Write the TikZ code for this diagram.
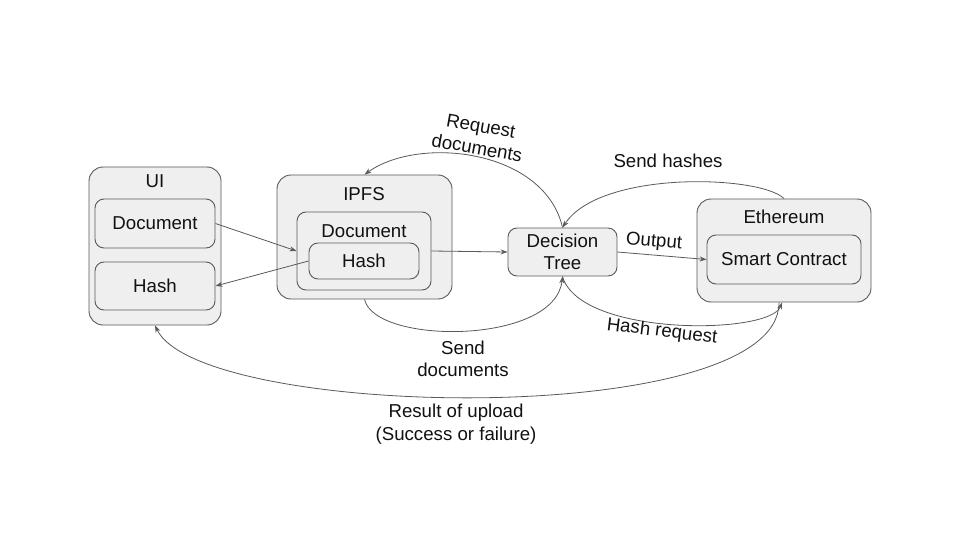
\documentclass[tikz,border=0pt]{standalone}
\usepackage{fontspec}
\setmainfont{Liberation Sans}
\usetikzlibrary{arrows.meta}
\definecolor{boxfill}{HTML}{EFEFEF}
\definecolor{edgecol}{HTML}{595959}
\definecolor{txt}{HTML}{111111}
\begin{document}
\begin{tikzpicture}[x=1pt,y=-1pt,
  box/.style={draw=edgecol, fill=boxfill, line width=0.9pt, rounded corners=14pt, inner sep=0pt},
  ibox/.style={draw=edgecol, fill=boxfill, line width=0.9pt, rounded corners=9pt, inner sep=0pt, align=center, text=txt, font=\fontsize{18.67}{22.5}\selectfont},
  lbl/.style={font=\fontsize{18.67}{22.5}\selectfont, align=center, inner sep=0pt, text=txt},
  arr/.style={draw=edgecol, line width=0.8pt, -{Stealth[length=7pt,width=5pt]}}
]
\useasboundingbox (0,0) rectangle (960,540);

% outer containers
\node[box, minimum width=132pt, minimum height=158pt] (ui) at (155,246) {};
\node[box, minimum width=175pt, minimum height=124pt] (ipfs) at (364.5,237) {};
\node[box, minimum width=174pt, minimum height=103pt] (eth) at (784,250.5) {};

\node[lbl] (uit) at (155,181) {UI};
\node[lbl] (ipfst) at (364,194) {IPFS};
\node[lbl] (etht) at (784,217) {Ethereum};

% inner boxes
\node[ibox, minimum width=120pt, minimum height=49pt] (uidoc) at (155,223.5) {Document};
\node[ibox, minimum width=120pt, minimum height=48pt] (uihash) at (155,286) {Hash};
\node[ibox, minimum width=134pt, minimum height=78pt] (ipfsdoc) at (364,251) {};
\node[lbl] (ipfsdoct) at (364,231) {Document};
\node[ibox, minimum width=110pt, minimum height=36pt] (ipfshash) at (364,261) {Hash};
\node[ibox, minimum width=109pt, minimum height=48pt] (dt) at (562.5,252) {Decision\\Tree};
\node[ibox, minimum width=154pt, minimum height=49pt] (sc) at (784,259.5) {Smart Contract};

% straight connectors
\draw[arr] (uidoc.east) -- (ipfsdoc.west);
\draw[arr] (ipfshash.west) -- (uihash.east);
\draw[arr] (ipfsdoc.east) -- (dt.west);
\draw[arr] (dt.east) -- (sc.west);

% curved connectors
\draw[arr] (dt.north) .. controls (545,150) and (420,135) .. (ipfs.north);
\draw[arr] (eth.north) .. controls (760,175) and (600,170) .. (dt.north);
\draw[arr] (ipfs.south) .. controls (375,345) and (555,345) .. (dt.south);
\draw[arr] (dt.south) .. controls (580,337) and (770,335) .. ([xshift=-2pt]eth.south);
\draw[arr] ([xshift=-5pt]eth.south) .. controls (780,430) and (200,420) .. (ui.south);

% labels
\node[lbl, rotate=-10] (lreq) at (479,137) {Request\\documents};
\node[lbl] (lsh) at (668,161) {Send hashes};
\node[lbl, rotate=-5] (lout) at (654,242) {Output};
\node[lbl] (lsd) at (463,359) {Send\\documents};
\node[lbl, rotate=-7] (lhr) at (662,332) {Hash request};
\node[lbl] (lres) at (456,424) {Result of upload\\(Success or failure)};
\end{tikzpicture}
\end{document}
